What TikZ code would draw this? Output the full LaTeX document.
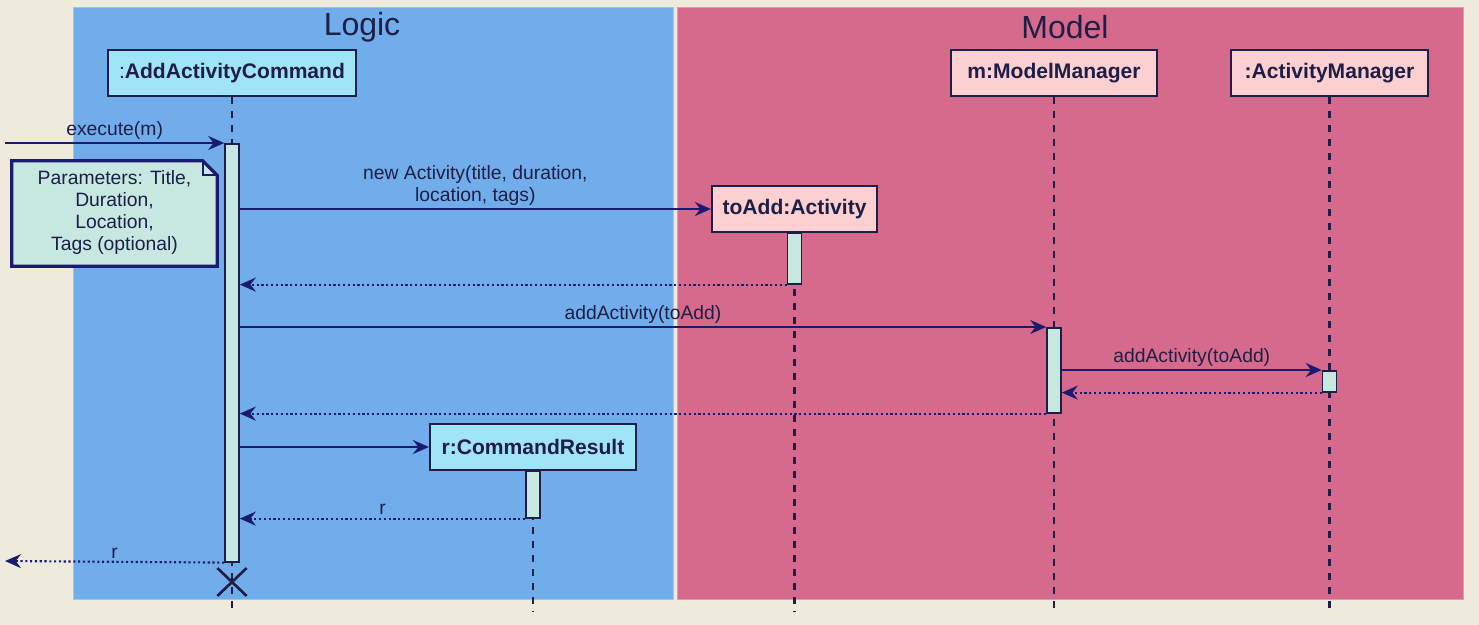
\documentclass[tikz,border=0pt]{standalone}
\usepackage{fontspec}
\setmainfont{Liberation Sans}
\usepackage{tikz}
\usetikzlibrary{arrows.meta}
\usetikzlibrary{positioning}

\definecolor{paper}{RGB}{238,235,220}
\definecolor{logicbg}{RGB}{112,173,234}
\definecolor{modelbg}{RGB}{214,106,140}
\definecolor{cyanfill}{RGB}{160,228,248}
\definecolor{pinkfill}{RGB}{252,208,208}
\definecolor{barfill}{RGB}{198,232,225}
\definecolor{ink}{RGB}{30,30,70}
\definecolor{arrowink}{RGB}{26,26,110}

\tikzstyle{box} = [rectangle, draw=ink, line width=1.6pt, text=ink, minimum height=34.5pt, inner sep=0pt, font=\fontsize{15.8}{18}\selectfont\bfseries]
\tikzstyle{logicobj} = [box, fill=cyanfill]
\tikzstyle{modelobj} = [box, fill=pinkfill]
\tikzstyle{bar} = [rectangle, draw=ink, line width=1.2pt, fill=barfill, minimum width=10.5pt, inner sep=0pt, anchor=north]
\tikzstyle{life} = [draw=ink, line width=1.7pt, dash pattern=on 5.5pt off 5pt]
\tikzstyle{msg} = [draw=arrowink, line width=1.6pt, -{Stealth[length=12pt,width=10.5pt,inset=4pt]}]
\tikzstyle{ret} = [msg, dash pattern=on 1.6pt off 2pt]
\tikzstyle{lbl} = [text=ink, font=\fontsize{14.5}{16.5}\selectfont, inner sep=2pt]

\begin{document}
\begin{tikzpicture}[x=0.75pt, y=-0.75pt, node distance=2cm]
\useasboundingbox[fill=paper] (0,0) rectangle (1479,625);

% groups
\fill[logicbg, draw=logicbg!70!white, line width=0.75pt] (73,7) rectangle (673,599);
\fill[modelbg, draw=modelbg!70!white, line width=0.75pt] (677.5,7) rectangle (1463.5,599);
\node (logic) [text=ink, font=\fontsize{24}{28}\selectfont] at (362,27) {Logic};
\node (model) [text=ink, font=\fontsize{24}{28}\selectfont] at (1065,27) {Model};

% participants
\node (cmd) [logicobj, minimum width=186pt] at (232,73) {\mdseries:\bfseries AddActivityCommand};
\node (mm) [modelobj, minimum width=154.5pt] at (1054,73) {m:ModelManager};
\node (am) [modelobj, minimum width=147.75pt] at (1329.5,73) {:ActivityManager};
\node (toadd) [modelobj, minimum width=123.75pt] at (794.5,209) {toAdd:Activity};
\node (result) [logicobj, minimum width=154.5pt] at (533,447) {r:CommandResult};

% lifelines
\coordinate (cmdend) at (232,612);
\coordinate (mmend) at (1054,612);
\coordinate (amend) at (1329.5,612);
\coordinate (toaddend) at (794.5,612);
\coordinate (resultend) at (533,612);
\draw[life] (cmd.south) -- (cmdend);
\draw[life] (mm.south) -- (mmend);
\draw[life] (am.south) -- (amend);
\draw[life] (toadd.south) -- (toaddend);
\draw[life] (result.south) -- (resultend);

% activations
\node (cmdbar) [bar, minimum height=313.5pt] at (232,143) {};
\node (toaddbar) [bar, minimum height=38.25pt] at (794.5,232) {};
\node (mmbar) [bar, minimum height=63.75pt] at (1054,327) {};
\node (ambar) [bar, minimum height=15.75pt] at (1329.5,370) {};
\node (resultbar) [bar, minimum height=35.25pt] at (533,470) {};

% note
\node (note) [lbl, align=center, minimum width=153.75pt, minimum height=78.75pt] at (114.5,213.5) {Parameters: Title,\\Duration,\\Location,\\Tags (optional)};
\draw[draw=arrowink, fill=barfill, line width=2.4pt] (note.north west) -- ([xshift=-11pt]note.north east) -- ([yshift=-11pt]note.north east) -- (note.south east) -- (note.south west) -- cycle;
\draw[draw=arrowink, line width=1.6pt] ([xshift=-11pt]note.north east) -- ([xshift=-11pt,yshift=-11pt]note.north east) -- ([yshift=-11pt]note.north east);
\node [lbl, align=center] at ([yshift=1pt]note.center) {Parameters: Title,\\Duration,\\Location,\\Tags (optional)};

% messages
\coordinate (caller) at (5,143);
\coordinate (back) at (5,561);
\draw[msg] (caller) -- (cmdbar.north west) node[lbl, midway, above] {execute(m)};
\draw[msg] (cmdbar.east |- toadd.west) -- (toadd.west) node[lbl, midway, above, align=center] {new Activity(title, duration,\\location, tags)};
\draw[ret] (toaddbar.south west) -- (cmdbar.east |- toaddbar.south);
\draw[msg] (cmdbar.east |- mmbar.north) -- (mmbar.north west) node[lbl, midway, above] {addActivity(toAdd)};
\draw[msg] (mmbar.east |- ambar.north) -- (ambar.north west) node[lbl, midway, above] {addActivity(toAdd)};
\draw[ret] (ambar.south west) -- (mmbar.east |- ambar.south);
\draw[ret] (mmbar.south west) -- (cmdbar.east |- mmbar.south);
\draw[msg] (cmdbar.east |- result.west) -- (result.west);
\draw[ret] (resultbar.south west) -- (cmdbar.east |- resultbar.south) node[lbl, midway, above] {r};
\draw[ret] (cmdbar.south west) -- (back) node[lbl, midway, above] {r};

% destroy
\coordinate (kill) at (232,582);
\draw[draw=ink, line width=2pt] ([xshift=-11pt,yshift=10.5pt]kill) -- ([xshift=11pt,yshift=-10.5pt]kill)
  ([xshift=-11pt,yshift=-10.5pt]kill) -- ([xshift=11pt,yshift=10.5pt]kill);
\end{tikzpicture}
\end{document}
